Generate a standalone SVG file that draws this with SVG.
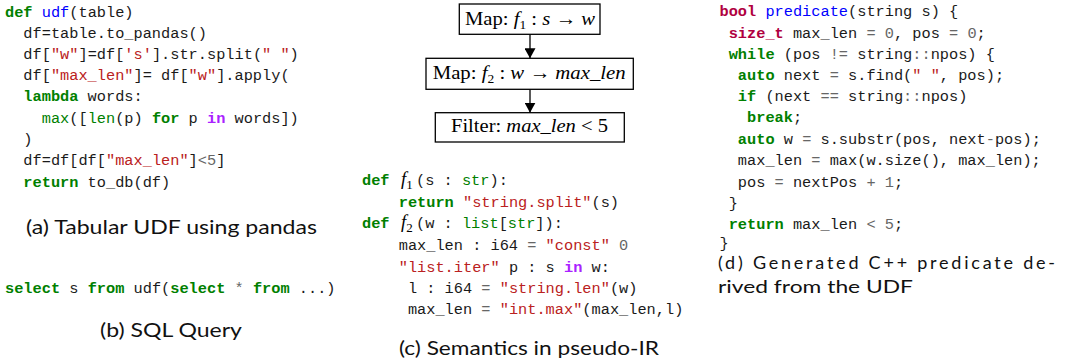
<svg xmlns="http://www.w3.org/2000/svg" width="1069" height="362" viewBox="0 0 1069 362">
<style>
.c{font-family:"Liberation Mono","DejaVu Sans Mono",monospace;font-size:15.3px;fill:#1a1a1a;white-space:pre}
.k{fill:#008000;font-weight:bold}
.nf{fill:#0000ff}
.s{fill:#ba2121}
.ow{fill:#aa22ff;font-weight:bold}
.nb{fill:#008000}
.o{fill:#666666}
.kt{fill:#b00040;font-weight:bold}
.cap{font-family:Lato,"Noto Sans",sans-serif;font-size:19px;fill:#111}
.m{font-family:"Liberation Serif",serif;font-size:18.5px;fill:#000;white-space:pre}
.i{font-style:italic}
.box{fill:#fff;stroke:#000;stroke-width:1.3}
.edge{stroke:#000;stroke-width:1.3;fill:none}
</style>
<defs>
<marker id="ah" markerUnits="userSpaceOnUse" markerWidth="10" markerHeight="11" refX="10" refY="5.5" orient="auto">
<path d="M0,0 L10,5.5 L0,11 z" fill="#000"/>
</marker>
</defs>
<rect width="1069" height="362" fill="#fff"/>

<g id="code-a">
<text class="c" xml:space="preserve" x="5" y="17"><tspan class="k">def</tspan> <tspan class="nf">udf</tspan>(table)</text>
<text class="c" xml:space="preserve" x="5" y="38">  df=table.to_pandas()</text>
<text class="c" xml:space="preserve" x="5" y="59">  df[<tspan class="s">"w"</tspan>]=df[<tspan class="s">'s'</tspan>].str.split(<tspan class="s">" "</tspan>)</text>
<text class="c" xml:space="preserve" x="5" y="80">  df[<tspan class="s">"max_len"</tspan>]= df[<tspan class="s">"w"</tspan>].apply(</text>
<text class="c" xml:space="preserve" x="5" y="101">  <tspan class="k">lambda</tspan> words:</text>
<text class="c" xml:space="preserve" x="5" y="123">    <tspan class="nb">max</tspan>([<tspan class="nb">len</tspan>(p) <tspan class="k">for</tspan> p <tspan class="ow">in</tspan> words])</text>
<text class="c" xml:space="preserve" x="5" y="144">  )</text>
<text class="c" xml:space="preserve" x="5" y="165">  df=df[df[<tspan class="s">"max_len"</tspan>]<tspan class="o">&lt;5</tspan>]</text>
<text class="c" xml:space="preserve" x="5" y="187">  <tspan class="k">return</tspan> to_db(df)</text>
</g>
<g id="caption-a"><text class="cap" x="26" y="234" textLength="291" lengthAdjust="spacingAndGlyphs">(a) Tabular UDF using pandas</text></g>

<g id="code-b">
<text class="c" xml:space="preserve" x="5" y="293"><tspan class="k">select</tspan> s <tspan class="k">from</tspan> udf(<tspan class="k">select</tspan> <tspan class="o">*</tspan> <tspan class="k">from</tspan> ...)</text>
</g>
<g id="caption-b"><text class="cap" x="100" y="337" textLength="142" lengthAdjust="spacingAndGlyphs">(b) SQL Query</text></g>

<g id="connectors">
<line class="edge" x1="530" y1="34.3" x2="530" y2="58.3" marker-end="url(#ah)"/>
<line class="edge" x1="530" y1="89.3" x2="530" y2="112.7" marker-end="url(#ah)"/>
</g>
<g id="node-map1">
<rect class="box" x="459.3" y="4" width="140.7" height="30.3"/>
<text class="m" xml:space="preserve" x="465" y="25" textLength="130" lengthAdjust="spacingAndGlyphs">Map: <tspan class="i">f</tspan><tspan font-size="12" dy="4">1</tspan><tspan dy="-4"> : </tspan><tspan class="i">s</tspan> → <tspan class="i">w</tspan></text>
</g>
<g id="node-map2">
<rect class="box" x="426" y="58.3" width="207.3" height="31"/>
<text class="m" xml:space="preserve" x="432.7" y="78.5" textLength="193" lengthAdjust="spacingAndGlyphs">Map: <tspan class="i">f</tspan><tspan font-size="12" dy="4">2</tspan><tspan dy="-4"> : </tspan><tspan class="i">w</tspan> → <tspan class="i">max_len</tspan></text>
</g>
<g id="node-filter">
<rect class="box" x="435.3" y="112.7" width="189" height="29.3"/>
<text class="m" xml:space="preserve" x="451" y="132" textLength="157" lengthAdjust="spacingAndGlyphs">Filter: <tspan class="i">max_len</tspan> &lt; 5</text>
</g>

<g id="code-c">
<text class="c" x="362" y="185"><tspan class="k">def</tspan></text>
<text class="m i" x="401" y="185">f<tspan font-size="13" font-style="normal" dy="4">1</tspan></text>
<text class="c" xml:space="preserve" x="416" y="185">(s : <tspan class="nb">str</tspan>):</text>
<text class="c" xml:space="preserve" x="362" y="206.5">    <tspan class="k">return</tspan> <tspan class="s">"string.split"</tspan>(s)</text>
<text class="c" x="362" y="228"><tspan class="k">def</tspan></text>
<text class="m i" x="401" y="228">f<tspan font-size="13" font-style="normal" dy="4">2</tspan></text>
<text class="c" xml:space="preserve" x="416" y="228">(w : <tspan class="nb">list</tspan>[<tspan class="nb">str</tspan>]):</text>
<text class="c" xml:space="preserve" x="362" y="250">    max_len : i64 <tspan class="o">=</tspan> <tspan class="s">"const"</tspan> <tspan class="o">0</tspan></text>
<text class="c" xml:space="preserve" x="362" y="271.5">    <tspan class="s">"list.iter"</tspan> p : s <tspan class="ow">in</tspan> w:</text>
<text class="c" xml:space="preserve" x="362" y="293">     l : i64 <tspan class="o">=</tspan> <tspan class="s">"string.len"</tspan>(w)</text>
<text class="c" xml:space="preserve" x="362" y="314">     max_len <tspan class="o">=</tspan> <tspan class="s">"int.max"</tspan>(max_len,l)</text>
</g>
<g id="caption-c"><text class="cap" x="399" y="355" textLength="260" lengthAdjust="spacingAndGlyphs">(c) Semantics in pseudo-IR</text></g>

<g id="code-d">
<text class="c" xml:space="preserve" x="719.5" y="16"><tspan class="kt">bool</tspan> <tspan class="nf">predicate</tspan>(string s) {</text>
<text class="c" xml:space="preserve" x="719.5" y="38"> <tspan class="kt">size_t</tspan> max_len <tspan class="o">=</tspan> <tspan class="o">0</tspan>, pos <tspan class="o">=</tspan> <tspan class="o">0</tspan>;</text>
<text class="c" xml:space="preserve" x="719.5" y="59"> <tspan class="k">while</tspan> (pos <tspan class="o">!=</tspan> string<tspan class="o">::</tspan>npos) {</text>
<text class="c" xml:space="preserve" x="719.5" y="80">  <tspan class="k">auto</tspan> next <tspan class="o">=</tspan> s.find(<tspan class="s">" "</tspan>, pos);</text>
<text class="c" xml:space="preserve" x="719.5" y="101">  <tspan class="k">if</tspan> (next <tspan class="o">==</tspan> string<tspan class="o">::</tspan>npos)</text>
<text class="c" xml:space="preserve" x="719.5" y="122">   <tspan class="k">break</tspan>;</text>
<text class="c" xml:space="preserve" x="719.5" y="143.5">  <tspan class="k">auto</tspan> w <tspan class="o">=</tspan> s.substr(pos, next<tspan class="o">-</tspan>pos);</text>
<text class="c" xml:space="preserve" x="719.5" y="165">  max_len <tspan class="o">=</tspan> max(w.size(), max_len);</text>
<text class="c" xml:space="preserve" x="719.5" y="186.5">  pos <tspan class="o">=</tspan> nextPos <tspan class="o">+</tspan> <tspan class="o">1</tspan>;</text>
<text class="c" xml:space="preserve" x="719.5" y="208"> }</text>
<text class="c" xml:space="preserve" x="719.5" y="229"> <tspan class="k">return</tspan> max_len <tspan class="o">&lt;</tspan> <tspan class="o">5</tspan>;</text>
<text class="c" xml:space="preserve" x="719.5" y="248">}</text>
</g>
<g id="caption-d">
<text class="cap" x="718" y="269" font-size="18" style="font-size:18px" textLength="337" lengthAdjust="spacing">(d) Generated C++ predicate de-</text>
<text class="cap" x="718" y="293" style="font-size:18px" textLength="195" lengthAdjust="spacingAndGlyphs">rived from the UDF</text>
</g>
</svg>
